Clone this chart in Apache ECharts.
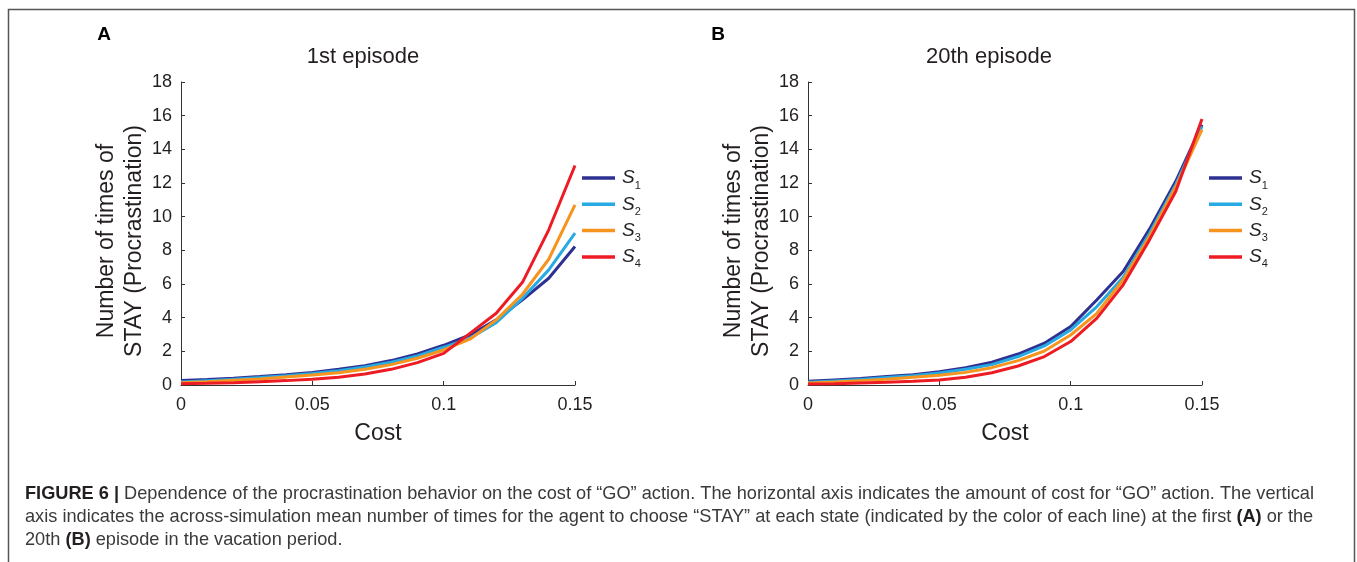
<!DOCTYPE html>
<html>
<head>
<meta charset="utf-8">
<script src="https://cdn.jsdelivr.net/npm/echarts@6/dist/echarts.min.js"></script>
<style>
  html, body { margin: 0; padding: 0; background: #ffffff; }
  #chart { width: 1357px; height: 562px; }
</style>
</head>
<body>
<div id="chart"></div>
<script>
// Cost of the "GO" action (x values shared by every line)
const costs = [0, 0.01, 0.02, 0.03, 0.04, 0.05, 0.06, 0.07, 0.08, 0.09, 0.10, 0.11, 0.12, 0.13, 0.14, 0.15];

// Mean number of STAY choices per state, 1st episode
const ep1S1 = [0.26, 0.32, 0.40, 0.50, 0.61, 0.75, 0.93, 1.15, 1.45, 1.84, 2.36, 2.97, 3.87, 5.06, 6.34, 8.23];
const ep1S2 = [0.18, 0.26, 0.34, 0.44, 0.55, 0.69, 0.85, 1.07, 1.35, 1.72, 2.24, 2.78, 3.70, 5.15, 6.84, 9.02];
const ep1S3 = [0.14, 0.20, 0.28, 0.36, 0.48, 0.60, 0.73, 0.93, 1.21, 1.59, 2.08, 2.72, 3.87, 5.39, 7.47, 10.70];
const ep1S4 = [0.08, 0.10, 0.14, 0.20, 0.26, 0.34, 0.46, 0.65, 0.93, 1.33, 1.88, 3.07, 4.26, 6.10, 9.22, 13.04];

// Mean number of STAY choices per state, 20th episode
const ep20S1 = [0.22, 0.30, 0.38, 0.50, 0.61, 0.79, 1.03, 1.35, 1.84, 2.48, 3.47, 5.06, 6.74, 9.26, 12.10, 15.46];
const ep20S2 = [0.16, 0.24, 0.32, 0.44, 0.55, 0.71, 0.93, 1.21, 1.69, 2.32, 3.27, 4.66, 6.40, 9.00, 11.90, 15.37];
const ep20S3 = [0.12, 0.18, 0.26, 0.34, 0.46, 0.58, 0.75, 1.03, 1.45, 2.02, 2.97, 4.26, 6.25, 8.82, 11.76, 15.17];
const ep20S4 = [0.06, 0.08, 0.12, 0.16, 0.22, 0.30, 0.46, 0.73, 1.13, 1.69, 2.58, 3.97, 5.95, 8.62, 11.50, 15.80];

const stateNames = ['S1', 'S2', 'S3', 'S4'];
const stateColors = ['#2E3192', '#27AAE1', '#F7941E', '#ED1C24'];

const panelTitles = ['1st episode', '20th episode'];
const panelLetters = ['A', 'B'];
const xLabel = 'Cost';
const yLabel = 'Number of times of\nSTAY (Procrastination)';

// Caption: each line is a list of [style, text] runs
const captionLines = [
  [['b', 'FIGURE 6 '], ['bar', '|'], ['r', ' Dependence of the procrastination behavior on the cost of \u201CGO\u201D action. The horizontal axis indicates the amount of cost for \u201CGO\u201D action. The vertical']],
  [['r', 'axis indicates the across-simulation mean number of times for the agent to choose \u201CSTAY\u201D at each state (indicated by the color of each line) at the first '], ['b', '(A)'], ['r', ' or the']],
  [['r', '20th '], ['b', '(B)'], ['r', ' episode in the vacation period.']]
];

const FONT = 'Arial, "Liberation Sans", Helvetica, sans-serif';
const INK = '#231F20';

const panels = [
  { grid: { left: 181, top: 82, width: 394, height: 303 }, data: [ep1S1, ep1S2, ep1S3, ep1S4], legendLeft: 582, titleX: 363, letterX: 104, yNameX: 121 },
  { grid: { left: 808, top: 82, width: 394, height: 303 }, data: [ep20S1, ep20S2, ep20S3, ep20S4], legendLeft: 1209, titleX: 989, letterX: 718, yNameX: 748 }
];

function pairs(ys) { return costs.map((c, i) => [c, ys[i]]); }

const grids = [], xAxes = [], yAxes = [], series = [], legends = [], graphics = [];

panels.forEach((p, k) => {
  grids.push(Object.assign({ containLabel: false }, p.grid));
  xAxes.push({
    type: 'value', gridIndex: k, min: 0, max: 0.15, interval: 0.05,
    name: xLabel, nameLocation: 'middle', nameGap: 37,
    nameTextStyle: { fontFamily: FONT, fontSize: 23, color: INK },
    axisLine: { show: true, lineStyle: { color: '#333333', width: 1 } },
    axisTick: { show: true, inside: true, length: 4, lineStyle: { color: '#333333' } },
    axisLabel: { fontFamily: FONT, fontSize: 18, color: INK, margin: 11,
      formatter: v => String(+v.toFixed(2)) },
    splitLine: { show: false }
  });
  yAxes.push({
    type: 'value', gridIndex: k, min: 0, max: 18, interval: 2,
    axisLine: { show: true, lineStyle: { color: '#333333', width: 1 } },
    axisTick: { show: true, inside: true, length: 4, lineStyle: { color: '#333333' } },
    axisLabel: { fontFamily: FONT, fontSize: 18, color: INK, margin: 9 },
    splitLine: { show: false }
  });
  p.data.forEach((ys, j) => {
    series.push({
      type: 'line', name: stateNames[j], xAxisIndex: k, yAxisIndex: k,
      data: pairs(ys), showSymbol: false, symbol: 'none', smooth: false,
      lineStyle: { width: 3, color: stateColors[j] }, itemStyle: { color: stateColors[j] },
      z: 2 + j, animation: false
    });
  });
  legends.push({
    orient: 'vertical', left: p.legendLeft, top: 165, padding: 0, itemGap: 0.3,
    itemWidth: 33, itemHeight: 3.5, icon: 'rect', selectedMode: false,
    data: stateNames,
    formatter: name => '{s|S}{sub|' + name.slice(1) + '}',
    textStyle: {
      fontFamily: FONT, color: INK, lineHeight: 26,
      rich: {
        s: { fontFamily: FONT, fontStyle: 'italic', fontSize: 19, height: 26, lineHeight: 26, verticalAlign: 'middle', color: INK, padding: [0, 0, 0, 2] },
        sub: { fontFamily: FONT, fontSize: 11, lineHeight: 10, verticalAlign: 'bottom', color: INK }
      }
    }
  });
  // Rotated y-axis title (two lines)
  graphics.push({
    type: 'text', x: p.yNameX, y: 241, rotation: Math.PI / 2,
    style: { text: yLabel, font: '23px ' + FONT, lineHeight: 28, fill: INK, align: 'center', verticalAlign: 'middle' }
  });
  graphics.push({
    type: 'text', x: p.titleX, y: 57,
    style: { text: panelTitles[k], font: '22px ' + FONT, fill: INK, align: 'center', verticalAlign: 'middle' }
  });
  graphics.push({
    type: 'text', x: p.letterX, y: 35,
    style: { text: panelLetters[k], font: 'bold 19px ' + FONT, fill: '#000000', align: 'center', verticalAlign: 'middle' }
  });
});

// Outer frame around the figure
graphics.push({
  type: 'rect', shape: { x: 8.5, y: 9.5, width: 1346, height: 600 },
  style: { fill: 'none', stroke: '#555555', lineWidth: 1.5 }, silent: true, z: -1
});

// Caption text with bold segments
const capY = [494, 517, 540];
const CAP_SIZE = 18.2;
captionLines.forEach((runs, i) => {
  const rich = runs.map(([st, txt]) => '{' + st + '|' + txt + '}').join('');
  graphics.push({
    type: 'text', x: 25, y: capY[i],
    style: {
      text: rich, align: 'left', verticalAlign: 'middle',
      rich: {
        b: { fontFamily: FONT, fontWeight: 'bold', fontSize: CAP_SIZE, fill: INK },
        bar: { fontFamily: FONT, fontWeight: 'bold', fontSize: CAP_SIZE, fill: INK },
        r: { fontFamily: FONT, fontSize: CAP_SIZE, fill: '#3a3a3a' }
      }
    }
  });
});

const chart = echarts.init(document.getElementById('chart'), null, { renderer: 'canvas' });
chart.setOption({
  backgroundColor: '#ffffff',
  animation: false,
  grid: grids,
  xAxis: xAxes,
  yAxis: yAxes,
  legend: legends,
  series: series,
  graphic: graphics
});
</script>
</body>
</html>
